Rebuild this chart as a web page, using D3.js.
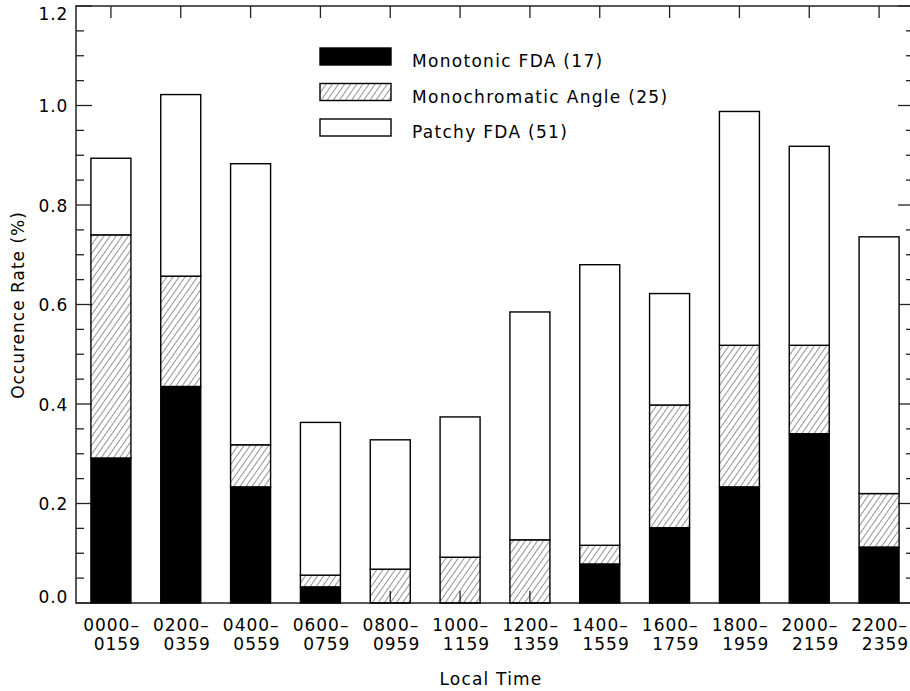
<!DOCTYPE html>
<html>
<head>
<meta charset="utf-8">
<script src="https://cdn.jsdelivr.net/npm/d3@7"></script>
<style>
  html, body { margin: 0; padding: 0; background: #fff; }
  svg text { font-family: "DejaVu Sans", "Liberation Sans", sans-serif; fill: #000; }
</style>
</head>
<body>
<svg id="chart" width="910" height="691"></svg>
<script>
// Local-time bins (two-line labels)
const binStart = ["0000", "0200", "0400", "0600", "0800", "1000", "1200", "1400", "1600", "1800", "2000", "2200"];
const binEnd   = ["0159", "0359", "0559", "0759", "0959", "1159", "1359", "1559", "1759", "1959", "2159", "2359"];

// Occurrence rate (%) per class, stacked bottom to top
const monotonicFDA      = [0.291, 0.435, 0.233, 0.032, 0.000, 0.000, 0.000, 0.078, 0.151, 0.233, 0.340, 0.112];
const monochromaticAng  = [0.449, 0.222, 0.085, 0.024, 0.068, 0.092, 0.127, 0.038, 0.247, 0.285, 0.178, 0.108];
const patchyFDA         = [0.154, 0.365, 0.565, 0.307, 0.260, 0.282, 0.458, 0.564, 0.224, 0.470, 0.400, 0.516];

const seriesNames = ["Monotonic FDA (17)", "Monochromatic Angle (25)", "Patchy FDA (51)"];
const yTicks = [0.0, 0.2, 0.4, 0.6, 0.8, 1.0, 1.2];

const svg = d3.select("#chart");
const plotL = 76, plotR = 914, plotT = 6, plotB = 603;

const x = d3.scaleLinear().domain([-0.5, 11.5]).range([plotL, plotR]);
const y = d3.scaleLinear().domain([0, 1.2]).range([plotB, plotT]);
const barW = 40;

// hatch pattern for the middle class
const defs = svg.append("defs");
const pat = defs.append("pattern")
  .attr("id", "hatch")
  .attr("patternUnits", "userSpaceOnUse")
  .attr("width", 5).attr("height", 5)
  .attr("patternTransform", "rotate(35)");
pat.append("line")
  .attr("x1", 0).attr("y1", 0).attr("x2", 0).attr("y2", 5)
  .attr("stroke", "#000").attr("stroke-width", 0.85);

const fills = ["#000", "url(#hatch)", "#fff"];

// axes frame and ticks
const axisColor = "#222";
const g = svg.append("g");
g.append("rect")
  .attr("x", plotL).attr("y", plotT)
  .attr("width", plotR - plotL).attr("height", plotB - plotT)
  .attr("fill", "none").attr("stroke", axisColor).attr("stroke-width", 1.5);

const minorTicks = d3.range(0, 1.2001, 0.05);
minorTicks.forEach(v => {
  const isMajor = Math.abs(v / 0.2 - Math.round(v / 0.2)) < 1e-6;
  const len = isMajor ? 16 : 8;
  g.append("line").attr("x1", plotL).attr("x2", plotL + len)
    .attr("y1", y(v)).attr("y2", y(v))
    .attr("stroke", axisColor).attr("stroke-width", 1.3);
  g.append("line").attr("x1", plotR).attr("x2", plotR - len)
    .attr("y1", y(v)).attr("y2", y(v))
    .attr("stroke", axisColor).attr("stroke-width", 1.3);
});

binStart.forEach((d, i) => {
  g.append("line").attr("x1", x(i)).attr("x2", x(i))
    .attr("y1", plotT).attr("y2", plotT + 12)
    .attr("stroke", axisColor).attr("stroke-width", 1.3);
  g.append("line").attr("x1", x(i)).attr("x2", x(i))
    .attr("y1", plotB).attr("y2", plotB - 12)
    .attr("stroke", axisColor).attr("stroke-width", 1.3);
});

// y tick labels (end labels kept inside the axis span)
svg.append("g").selectAll("text").data(yTicks).join("text")
  .attr("x", 68)
  .attr("y", d => Math.max(20, Math.min(603, y(d) + 6.5)))
  .attr("text-anchor", "end")
  .attr("font-size", 17).attr("letter-spacing", 0.8)
  .text(d => d.toFixed(1));

// x tick labels
const xl = svg.append("g");
binStart.forEach((d, i) => {
  xl.append("text").attr("x", x(i) + 29).attr("y", 631)
    .attr("text-anchor", "end").attr("font-size", 17).attr("letter-spacing", 1)
    .text(d + "\u2013");
  xl.append("text").attr("x", x(i) + 30).attr("y", 650)
    .attr("text-anchor", "end").attr("font-size", 17).attr("letter-spacing", 1)
    .text(binEnd[i]);
});

// stacked bars
const rows = binStart.map((d, i) => ({ i, a: monotonicFDA[i], b: monochromaticAng[i], c: patchyFDA[i] }));
const stack = d3.stack().keys(["a", "b", "c"]);
const layers = stack(rows);

svg.append("g").selectAll("g").data(layers).join("g")
  .attr("fill", (d, k) => fills[k])
  .selectAll("rect").data(d => d.filter(s => s[1] - s[0] > 0)).join("rect")
  .attr("x", d => x(d.data.i) - barW / 2)
  .attr("width", barW)
  .attr("y", d => y(d[1]))
  .attr("height", d => y(d[0]) - y(d[1]))
  .attr("stroke", "#000").attr("stroke-width", 1.4);

// legend
const leg = svg.append("g");
seriesNames.forEach((name, k) => {
  const yy = 48 + k * 35.5;
  leg.append("rect").attr("x", 320).attr("y", yy).attr("width", 71).attr("height", 17)
    .attr("fill", fills[k]).attr("stroke", "#000").attr("stroke-width", 1.4);
  leg.append("text").attr("x", 412).attr("y", yy + 19)
    .attr("font-size", 17).attr("letter-spacing", 1.3).text(name);
});

// axis titles
svg.append("text").attr("x", 491).attr("y", 685)
  .attr("text-anchor", "middle").attr("font-size", 17).attr("letter-spacing", 1.2)
  .text("Local Time");
svg.append("text")
  .attr("transform", "translate(24,305) rotate(-90)")
  .attr("text-anchor", "middle").attr("font-size", 17).attr("letter-spacing", 1)
  .text("Occurence Rate (%)");
</script>
</body>
</html>
